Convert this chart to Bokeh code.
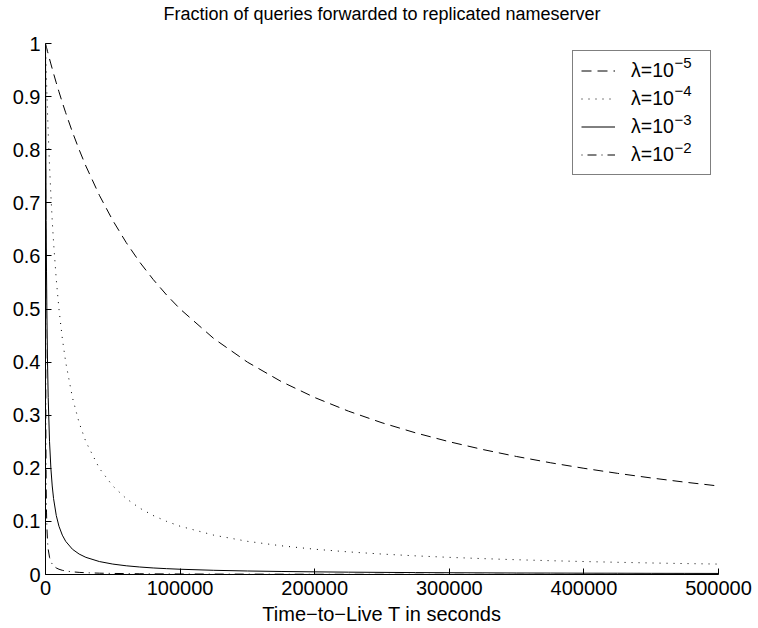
from bokeh.plotting import figure
from bokeh.models import Range1d, FixedTicker, Legend, LegendItem, ColumnDataSource, Title
from bokeh.core.properties import value
from bokeh.embed import file_html
from bokeh.resources import INLINE

# Time-to-Live T (seconds)
ttl = [0, 250, 500, 750, 1000, 1500, 2000, 3000, 4000, 5000, 6000, 8000, 10000,
       12500, 15000, 20000, 25000, 30000, 40000, 50000, 60000, 70000, 80000,
       90000, 100000, 125000, 150000, 175000, 200000, 225000, 250000, 275000,
       300000, 325000, 350000, 375000, 400000, 425000, 450000, 475000, 500000]

# fraction of queries forwarded
frac_1e5 = [1.0, 0.9975, 0.995, 0.9926, 0.9901, 0.9852, 0.9804, 0.9709, 0.9615,
            0.9524, 0.9434, 0.9259, 0.9091, 0.8889, 0.8696, 0.8333, 0.8, 0.7692,
            0.7143, 0.6667, 0.625, 0.5882, 0.5556, 0.5263, 0.5, 0.4444, 0.4,
            0.3636, 0.3333, 0.3077, 0.2857, 0.2667, 0.25, 0.2353, 0.2222, 0.2105,
            0.2, 0.1905, 0.1818, 0.1739, 0.1667]
frac_1e4 = [1.0, 0.9756, 0.9524, 0.9302, 0.9091, 0.8696, 0.8333, 0.7692, 0.7143,
            0.6667, 0.625, 0.5556, 0.5, 0.4444, 0.4, 0.3333, 0.2857, 0.25, 0.2,
            0.1667, 0.1429, 0.125, 0.1111, 0.1, 0.0909, 0.0741, 0.0625, 0.0541,
            0.0476, 0.0426, 0.0385, 0.0351, 0.0323, 0.0299, 0.0278, 0.026, 0.0244,
            0.023, 0.0217, 0.0206, 0.0196]
frac_1e3 = [1.0, 0.8, 0.6667, 0.5714, 0.5, 0.4, 0.3333, 0.25, 0.2, 0.1667, 0.1429,
            0.1111, 0.0909, 0.0741, 0.0625, 0.0476, 0.0385, 0.0323, 0.0244, 0.0196,
            0.0164, 0.0141, 0.0123, 0.011, 0.0099, 0.0079, 0.0066, 0.0057, 0.005,
            0.0044, 0.004, 0.0036, 0.0033, 0.0031, 0.0028, 0.0027, 0.0025, 0.0024,
            0.0022, 0.0021, 0.002]
frac_1e2 = [1.0, 0.2857, 0.1667, 0.1176, 0.0909, 0.0625, 0.0476, 0.0323, 0.0244,
            0.0196, 0.0164, 0.0123, 0.0099, 0.0079, 0.0066, 0.005, 0.004, 0.0033,
            0.0025, 0.002, 0.0017, 0.0014, 0.0012, 0.0011, 0.001, 0.0008, 0.0007,
            0.0006, 0.0005, 0.0004, 0.0004, 0.0004, 0.0003, 0.0003, 0.0003, 0.0003,
            0.0002, 0.0002, 0.0002, 0.0002, 0.0002]

legend_base = "λ=10"
legend_exponents = ["−5", "−4", "−3", "−2"]
x_ticks = [0, 100000, 200000, 300000, 400000, 500000]
x_tick_labels = ["0", "100000", "200000", "300000", "400000", "500000"]
y_ticks = [0, 0.1, 0.2, 0.3, 0.4, 0.5, 0.6, 0.7, 0.8, 0.9, 1.0]
y_tick_labels = ["0", "0.1", "0.2", "0.3", "0.4", "0.5", "0.6", "0.7", "0.8", "0.9", "1"]
title_text = "Fraction of queries forwarded to replicated nameserver"
x_label = "Time−to−Live T in seconds"

FONT = "Liberation Sans"
FS = "20px"

W, H = 758, 628
ML, MR, MT, MB = 45, 40, 43, 54
FW, FH = W - ML - MR, H - MT - MB
X0, X1, Y0, Y1 = 0, 500000, 0, 1


def dx(px):
    """canvas pixel column -> data x"""
    return X0 + (px - ML) / FW * (X1 - X0)


def dy(py):
    """canvas pixel row -> data y"""
    return Y0 + ((H - MB) - py) / FH * (Y1 - Y0)


p = figure(width=W, height=H, output_backend="svg", toolbar_location=None,
           x_range=Range1d(X0, X1), y_range=Range1d(Y0, Y1),
           min_border_left=ML, min_border_right=MR, min_border_top=MT,
           min_border_bottom=MB, title=None)

# a blank spacer next to the frame, then the real title further up
p.add_layout(Title(text=" ", text_font=FONT, text_font_size="10px",
                   standoff=7), "above")
p.add_layout(Title(text=title_text, align="center", text_font=FONT,
                   text_font_size="18px", text_font_style="normal",
                   text_color="black", standoff=0), "above")

p.outline_line_color = None
p.xgrid.visible = False
p.ygrid.visible = False
p.background_fill_color = "white"
p.border_fill_color = "white"

for ax in (p.xaxis[0], p.yaxis[0]):
    ax.major_tick_in = 6
    ax.major_tick_out = 0
    ax.minor_tick_in = 0
    ax.minor_tick_out = 0
    ax.axis_line_color = "black"
    ax.major_tick_line_color = "black"
    ax.major_label_text_font = FONT
    ax.major_label_text_font_size = FS
    ax.major_label_text_color = "black"

p.xaxis.ticker = FixedTicker(ticks=x_ticks)
p.xaxis.major_label_overrides = {t: s for t, s in zip(x_ticks, x_tick_labels)}
p.xaxis.major_label_standoff = 6
p.yaxis.ticker = FixedTicker(ticks=y_ticks)
p.yaxis.major_label_overrides = {t: s for t, s in zip(y_ticks, y_tick_labels)}
p.yaxis.major_label_standoff = 5
p.xaxis.axis_label = x_label
p.xaxis.axis_label_text_font = FONT
p.xaxis.axis_label_text_font_size = FS
p.xaxis.axis_label_text_font_style = "normal"
p.xaxis.axis_label_text_color = "black"
p.xaxis.axis_label_standoff = 5

r1 = p.line(ttl, frac_1e5, line_color="black", line_width=1, line_dash="10 6")
r2 = p.line(ttl, frac_1e4, line_color="black", line_width=1, line_dash="1 6")
r3 = p.line(ttl, frac_1e3, line_color="black", line_width=1)
r4 = p.line(ttl, frac_1e2, line_color="black", line_width=1, line_dash="1 5 9 5")
renderers = [r1, r2, r3, r4]

legend = Legend(items=[LegendItem(label=legend_base, renderers=[r]) for r in renderers],
                location="top_right", margin=7, padding=8, spacing=5,
                label_height=23, glyph_height=23, glyph_width=34,
                label_standoff=16, label_width=71, border_line_color="black",
                border_line_width=1, label_text_font=FONT,
                label_text_font_size="19.5px", label_text_color="black",
                background_fill_alpha=0.0)
p.add_layout(legend)

# exponents of the legend labels (the legend box is transparent, so they show)
row_h = 28.5
exp_src = ColumnDataSource(dict(
    x=[dx(674)] * len(legend_exponents),
    y=[dy(62 + i * row_h) for i in range(len(legend_exponents))],
    t=legend_exponents))
p.text(x="x", y="y", text="t", source=exp_src, text_align="left",
       text_baseline="alphabetic", text_font=value(FONT),
       text_font_size=value("15px"), text_color="black")

open("out.html", "w").write(file_html(p, INLINE))
